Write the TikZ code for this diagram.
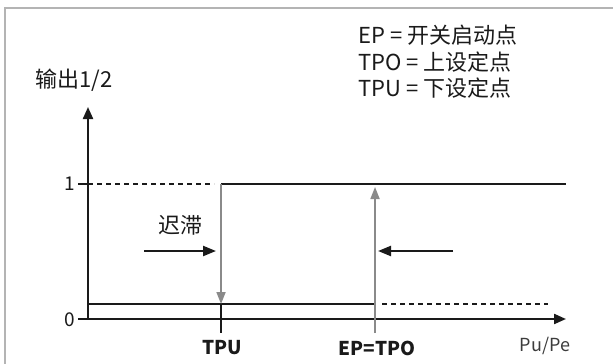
\documentclass[tikz,border=0pt]{standalone}
\usepackage{fontspec}
\setmainfont{Noto Sans CJK SC}
\usetikzlibrary{arrows.meta}
\definecolor{framegray}{HTML}{B4B4B4}
\definecolor{linegray}{HTML}{8A8A8A}
\definecolor{ink}{HTML}{1A1A1A}
\tikzset{
  axisline/.style={draw=ink, line width=2.2pt, -{Triangle[length=12pt,width=10pt]}},
  levelline/.style={draw=ink, line width=2.2pt},
  dashline/.style={draw=ink, line width=2.2pt, dash pattern=on 5pt off 4pt},
  grayarrow/.style={draw=linegray, line width=1.7pt, -{Triangle[length=12pt,width=9pt]}},
  hintarrow/.style={draw=ink, line width=2.2pt, -{Triangle[length=13pt,width=10pt]}},
  lbl/.style={inner sep=0pt, text=ink, font=\fontsize{22pt}{25pt}\selectfont},
  ticklbl/.style={inner sep=0pt, text=ink, font=\bfseries\fontsize{19pt}{22pt}\selectfont},
}
\begin{document}
\begin{tikzpicture}[x=1pt,y=-1pt]
\useasboundingbox (0,0) rectangle (613,364);
\fill[white] (0,0) rectangle (613,364);
% frame
\draw[framegray, line width=1.5pt] (5,364) -- (5,8) -- (613,8);
% coordinates
\coordinate (o) at (88,319);
\coordinate (ytop) at (88,107);
\coordinate (xstart) at (78,319);
\coordinate (xend) at (566,319);
\coordinate (t1) at (78,184);
\coordinate (d1a) at (88,184);
\coordinate (d1b) at (214,184);
\coordinate (s1a) at (221,184);
\coordinate (s1b) at (566,184);
\coordinate (s0a) at (88,304);
\coordinate (s0b) at (375,304);
\coordinate (d0a) at (382,304);
\coordinate (d0b) at (548,304);
\coordinate (tpuTop) at (221,184);
\coordinate (tpuLow) at (221,304);
\coordinate (tpuBot) at (221,333);
\coordinate (epBot) at (375,333);
\coordinate (epTop) at (375,187);
\coordinate (ra) at (144,251);
\coordinate (rb) at (216,251);
\coordinate (la) at (453,251);
\coordinate (lb) at (378,251);
% axes
\draw[axisline] (o) -- (ytop);
\draw[axisline] (xstart) -- (xend);
\draw[ink, line width=1.8pt] (t1) -- (d1a);
% levels
\draw[dashline] (d1a) -- (d1b);
\draw[levelline] (s1a) -- (s1b);
\draw[levelline] (s0a) -- (s0b);
\draw[dashline] (d0a) -- (d0b);
% switching lines
\draw[grayarrow] (tpuTop) -- (tpuLow);
\draw[ink, line width=2pt] (tpuLow) -- (tpuBot);
\draw[grayarrow] (epBot) -- (epTop);
% direction arrows
\draw[hintarrow] (ra) -- (rb);
\draw[hintarrow] (la) -- (lb);
% labels
\node[lbl, anchor=west] (ylab) at (35,80) {输出1/2};
\node[lbl, anchor=west] (leg1) at (358,35) {EP = 开关启动点};
\node[lbl, anchor=west] (leg2) at (358,62) {TPO = 上设定点};
\node[lbl, anchor=west] (leg3) at (358,88) {TPU = 下设定点};
\node[lbl] (hyst) at (180,225) {迟滞};
\node[lbl, anchor=east, font=\fontsize{19pt}{22pt}\selectfont] (one) at (75,184) {1};
\node[lbl, anchor=east, font=\fontsize{19pt}{22pt}\selectfont] (zero) at (75,320) {0};
\node[ticklbl] (tpu) at (222,348) {TPU};
\node[ticklbl] (ep) at (377,348) {EP=TPO};
\node[lbl, font=\fontsize{18pt}{21pt}\selectfont, text=ink!85] (pupe) at (545,346) {Pu/Pe};
\end{tikzpicture}
\end{document}
